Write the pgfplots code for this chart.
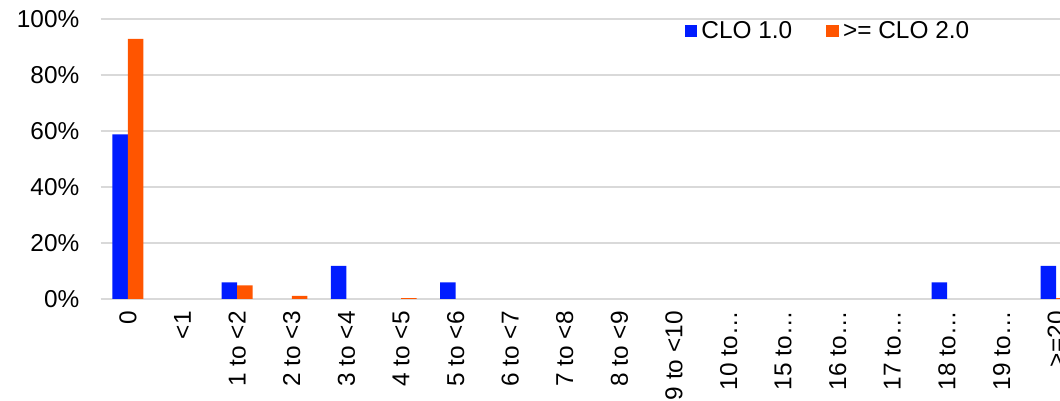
\documentclass[border=0pt]{standalone}
\usepackage{fontspec}
\setmainfont{Liberation Sans}
\usepackage{pgfplots}
\pgfplotsset{compat=1.18}
\definecolor{cloblue}{RGB}{0,28,255}
\definecolor{cloorange}{RGB}{255,85,0}
\definecolor{gridgray}{RGB}{217,217,217}
\begin{document}
\begin{tikzpicture}
\useasboundingbox (-50.35pt,-51pt) rectangle (479.65pt,149.5pt);
\begin{axis}[
  at={(0,0)}, anchor=south west,
  scale only axis,
  width=491.4pt, height=140pt,
  xmin=-0.5, xmax=17.5,
  ymin=0, ymax=100,
  ybar=0pt, bar width=7.75pt,
  axis x line*=bottom,
  axis y line*=left,
  x axis line style={draw=gridgray, line width=0.8pt, -},
  y axis line style={draw=none},
  ymajorgrids,
  grid style={draw=gridgray, line width=0.8pt},
  major tick length=0pt,
  xtick={0,...,17},
  xticklabels={0,{<1},{1 to <2},{2 to <3},{3 to <4},{4 to <5},{5 to <6},{6 to <7},{7 to <8},{8 to <9},{9 to <10},{10 to…},{15 to…},{16 to…},{17 to…},{18 to…},{19 to…},{>=20}},
  xticklabel style={rotate=90, anchor=east, font=\fontsize{12.2}{14}\selectfont, inner sep=0pt},
  xticklabel shift=6pt,
  ytick={0,20,40,60,80,100},
  yticklabels={0\%,20\%,40\%,60\%,80\%,100\%},
  yticklabel style={font=\fontsize{12.2}{14}\selectfont, inner sep=0pt},
  yticklabel shift=10.5pt,
  legend style={at={(0.741,0.957)}, anchor=center, draw=none, fill=none,
    font=\fontsize{12.2}{14}\selectfont, legend columns=2,
    /tikz/every even column/.append style={column sep=15pt},
    inner sep=0pt},
  legend image code/.code={\fill[#1] (0pt,-3.2pt) rectangle (6.4pt,3.2pt);},
]
\addplot[fill=cloblue, draw=none] coordinates {(0,58.8) (2,5.9) (4,11.8) (6,5.9) (15,5.9) (17,11.8)};
\addlegendentry{CLO 1.0}
\addplot[fill=cloorange, draw=none] coordinates {(0,92.9) (2,4.9) (3,1.1) (5,0.3) (17,0.3)};
\addlegendentry{>= CLO 2.0}
\end{axis}
\end{tikzpicture}
\end{document}
